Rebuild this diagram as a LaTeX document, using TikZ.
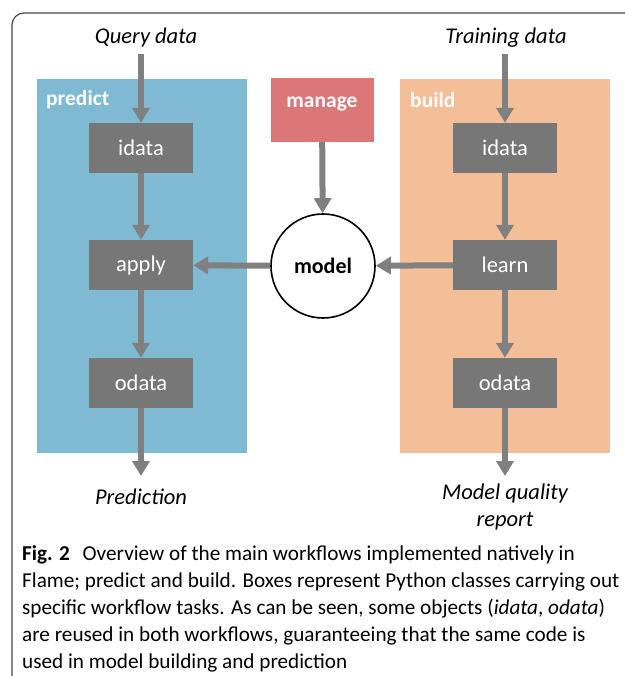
\documentclass[tikz,border=0pt]{standalone}
\usepackage{fontspec}
\setmainfont{Carlito}
\usetikzlibrary{arrows.meta}
\definecolor{predictblue}{RGB}{127,186,211}
\definecolor{buildorange}{RGB}{244,190,152}
\definecolor{managered}{RGB}{218,119,120}
\definecolor{classgray}{RGB}{119,119,119}
\definecolor{flowgray}{RGB}{128,128,128}
\definecolor{framegray}{RGB}{70,70,70}
\tikzset{
  panel/.style={draw=none, minimum width=210pt, minimum height=374pt, inner sep=0pt},
  panellabel/.style={font=\fontsize{21.5}{24}\selectfont\bfseries, text=white, anchor=west, inner sep=0pt},
  classbox/.style={fill=classgray, minimum width=104pt, minimum height=50pt, inner sep=0pt,
    text=white, font=\fontsize{22.5}{26}\selectfont},
  endlabel/.style={font=\fontsize{22.5}{27}\selectfont\itshape, align=center, inner sep=2pt},
  flow/.style={draw=flowgray, line width=6pt, -{Triangle[width=17pt,length=15pt]}},
}
\begin{document}
\begin{tikzpicture}[x=1pt,y=-1pt]
\useasboundingbox (0,0) rectangle (624,676);
% outer frame
\draw[framegray, line width=1.2pt, rounded corners=12pt] (12,680) -- (12,13) -- (630,13);
% workflow panels
\node[panel, fill=predictblue] (ppanel) at (142,266) {};
\node[panel, fill=buildorange] (bpanel) at (505,266) {};
\node[panellabel] (plabel) at (46,100) {predict};
\node[panellabel] (blabel) at (410,100) {build};
% manage (label set in the upper part of the box)
\node[fill=managered, minimum width=103pt, minimum height=64pt, inner sep=0pt,
  text height=15pt, text depth=19pt,
  text=white, font=\fontsize{21.5}{24}\selectfont\bfseries] (manage) at (322,110) {manage};
% model
\node[circle, draw=black, line width=1.6pt, fill=white, minimum size=104pt, inner sep=0pt,
  font=\fontsize{22}{26}\selectfont\bfseries] (model) at (323,266) {model};
% predict classes
\node[classbox] (pidata) at (141,148) {idata};
\node[classbox] (apply) at (141,265) {apply};
\node[classbox] (podata) at (141,383) {odata};
% build classes
\node[classbox] (bidata) at (505,148) {idata};
\node[classbox] (learn) at (505,265) {learn};
\node[classbox] (bodata) at (505,383) {odata};
% inputs and outputs
\node[endlabel] (query) at (146,38) {Query data};
\node[endlabel] (train) at (506,38) {Training data};
\node[endlabel] (prediction) at (141,497) {Prediction};
\node[endlabel, anchor=north] (report) at (505,482) {Model quality\\report};
\coordinate (predout) at (141,476);
\coordinate (repout) at (505,476);
% connectors
\draw[flow] (141,54) -- (pidata.north);
\draw[flow] (505,54) -- (bidata.north);
\draw[flow] (pidata) -- (apply);
\draw[flow] (apply) -- (podata);
\draw[flow] (podata) -- (predout);
\draw[flow] (bidata) -- (learn);
\draw[flow] (learn) -- (bodata);
\draw[flow] (bodata) -- (repout);
\draw[flow] (manage) -- (model);
\draw[flow] (learn) -- (model);
\draw[flow] (model) -- (apply);
% caption
\node[anchor=north west, inner sep=0pt, align=left, font=\fontsize{21.2}{27.2}\selectfont] (caption) at (22,545)
{\textbf{Fig. 2}\hspace{0.6em}Overview of the main workflows implemented natively in\\
Flame; predict and build. Boxes represent Python classes carrying out\\
specific workflow tasks. As can be seen, some objects (\textit{idata}, \textit{odata})\\
are reused in both workflows, guaranteeing that the same code is\\
used in model building and prediction};
\end{tikzpicture}
\end{document}
